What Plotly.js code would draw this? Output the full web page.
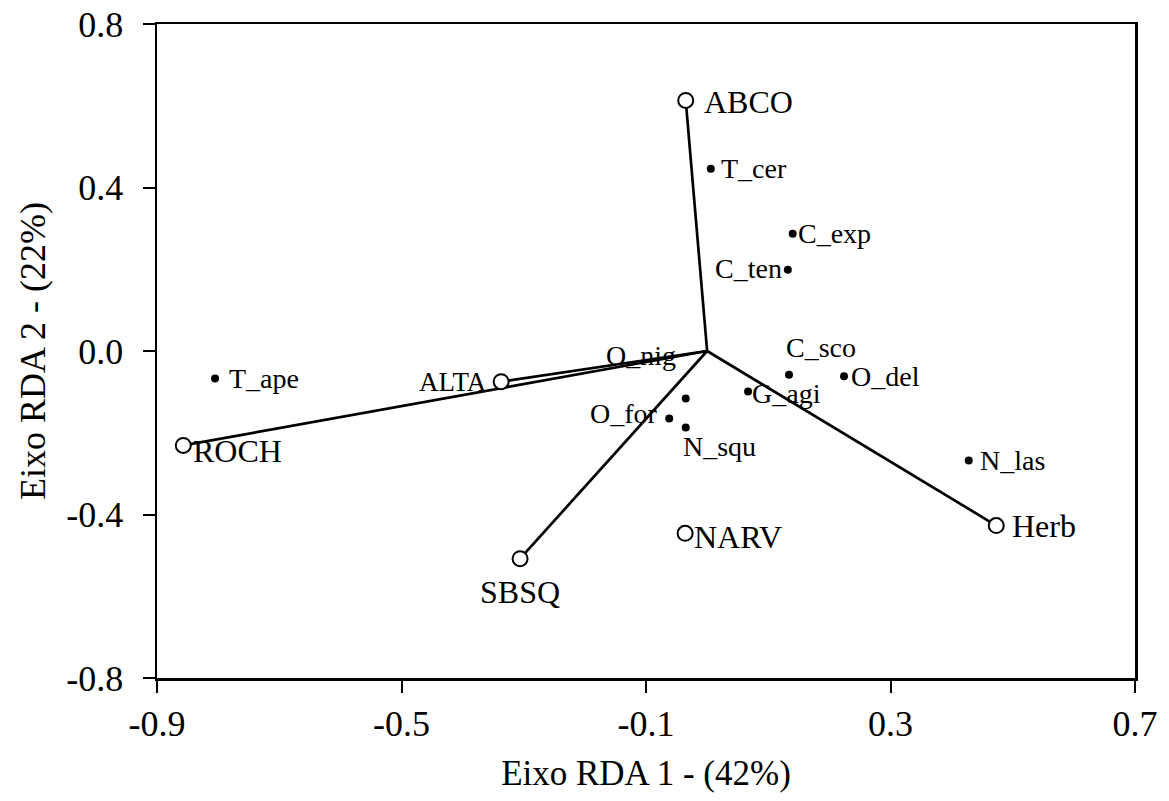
<!DOCTYPE html>
<html>
<head>
<meta charset="utf-8">
<script src="https://cdn.plot.ly/plotly-3.0.1.min.js"></script>
<style>html,body{margin:0;padding:0;background:#fff;}#chart{width:1169px;height:801px;}</style>
</head>
<body>
<div id="chart"></div>
<script>
// Environmental variables (open circles)
const envNames = ["ABCO", "ALTA", "ROCH", "SBSQ", "NARV", "Herb"];
const envX = [-0.035, -0.337, -0.857, -0.306, -0.036, 0.473];
const envY = [0.613, -0.075, -0.231, -0.508, -0.446, -0.427];
const envArrow = [true, true, true, true, false, true];

// Species (filled dots)
const spNames = ["T_cer", "C_exp", "C_ten", "T_ape", "C_sco", "O_del", "G_agi", "O_nig", "O_for", "N_squ", "N_las"];
const spX = [0.006, 0.140, 0.132, -0.805, 0.134, 0.224, 0.067, -0.035, -0.062, -0.035, 0.428];
const spY = [0.446, 0.287, 0.199, -0.067, -0.058, -0.062, -0.099, -0.116, -0.165, -0.187, -0.268];

const xTicks = [-0.9, -0.5, -0.1, 0.3, 0.7];
const yTicks = [-0.8, -0.4, 0.0, 0.4, 0.8];

const FONT = "'Liberation Serif', 'Times New Roman', Times, serif";

// label placement (style)
const envLab = {
  ABCO: {xa: "left", xs: 16, ys: -2, size: 32},
  ALTA: {xa: "right", xs: -12, ys: 0, size: 27},
  ROCH: {xa: "left", xs: 8, ys: -6, size: 32},
  SBSQ: {xa: "center", xs: 0, ys: -33, size: 32},
  NARV: {xa: "left", xs: 7, ys: -4, size: 32},
  Herb: {xa: "left", xs: 14, ys: 0, size: 32}
};
const spLab = {
  T_cer: {xa: "left", xs: 8, ys: 0},
  C_exp: {xa: "left", xs: 3, ys: 0},
  C_ten: {xa: "right", xs: -4, ys: 1},
  T_ape: {xa: "left", xs: 12, ys: 0},
  C_sco: {xa: "center", xs: 32, ys: 27},
  O_del: {xa: "left", xs: 5, ys: 0},
  G_agi: {xa: "left", xs: 2, ys: -2},
  O_nig: {xa: "center", xs: -45, ys: 43},
  O_for: {xa: "right", xs: -9, ys: 5},
  N_squ: {xa: "center", xs: 34, ys: -19},
  N_las: {xa: "left", xs: 9, ys: 0}
};

// vector lines from origin
const lx = [], ly = [];
envNames.forEach((n, i) => {
  if (envArrow[i]) { lx.push(0, envX[i], null); ly.push(0, envY[i], null); }
});

const traces = [
  {x: lx, y: ly, mode: "lines", line: {color: "#000", width: 2.7}, hoverinfo: "skip", showlegend: false},
  {x: spX, y: spY, mode: "markers", marker: {color: "#000", size: 8}, showlegend: false},
  {x: envX, y: envY, mode: "markers", marker: {color: "#fff", size: 15, line: {color: "#000", width: 2}}, showlegend: false}
];

const annotations = [];
envNames.forEach((n, i) => {
  const p = envLab[n];
  annotations.push({x: envX[i], y: envY[i], text: n, showarrow: false, xanchor: p.xa, yanchor: "middle",
    xshift: p.xs, yshift: p.ys, font: {family: FONT, size: p.size, color: "#000"}});
});
spNames.forEach((n, i) => {
  const p = spLab[n];
  annotations.push({x: spX[i], y: spY[i], text: n, showarrow: false, xanchor: p.xa, yanchor: "middle",
    xshift: p.xs, yshift: p.ys, font: {family: FONT, size: 28, color: "#000"}});
});

const layout = {
  width: 1169, height: 801,
  margin: {l: 157, r: 34, t: 24, b: 123},
  paper_bgcolor: "#fff", plot_bgcolor: "#fff",
  font: {family: FONT, color: "#000"},
  showlegend: false,
  xaxis: {
    range: [-0.9, 0.7], tickvals: xTicks, ticktext: xTicks.map(v => v.toFixed(1)),
    showgrid: false, zeroline: false, showline: true, linecolor: "#000", linewidth: 2.5, mirror: true,
    ticks: "outside", ticklen: 12, tickwidth: 2, tickcolor: "#000",
    tickfont: {family: FONT, size: 36, color: "#000"},
    title: {text: "Eixo RDA 1 - (42%)", font: {family: FONT, size: 35, color: "#000"}, standoff: 18}
  },
  yaxis: {
    range: [-0.8, 0.8], tickvals: yTicks, ticktext: yTicks.map(v => v.toFixed(1)),
    showgrid: false, zeroline: false, showline: true, linecolor: "#000", linewidth: 2.5, mirror: true,
    ticks: "outside", ticklen: 12, tickwidth: 2, tickcolor: "#000", ticklabelstandoff: 12,
    tickfont: {family: FONT, size: 36, color: "#000"},
    title: {text: "Eixo RDA 2 - (22%)", font: {family: FONT, size: 36, color: "#000"}, standoff: 10}
  },
  annotations: annotations
};

Plotly.newPlot("chart", traces, layout, {displayModeBar: false, staticPlot: true});
</script>
</body>
</html>
